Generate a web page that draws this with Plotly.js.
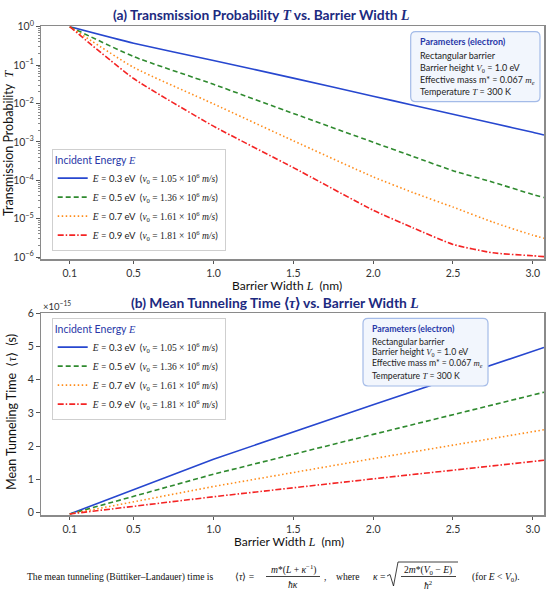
<!DOCTYPE html>
<html>
<head>
<meta charset="utf-8">
<script src="https://cdn.plot.ly/plotly-3.0.1.min.js"></script>
<style>html,body{margin:0;padding:0;background:#fff;}#chart{width:550px;height:593px;}</style>
</head>
<body>
<div id="chart"></div>
<script>
// ---------- data ----------
const energies = [0.3, 0.5, 0.7, 0.9];              // eV
const v0 = ['1.05', '1.36', '1.61', '1.81'];        // ×10^6 m/s
const colors = ['#2747cf', '#2f8a2f', '#ff8c1a', '#f42424'];
const dashes = ['solid', '5px,3px', '1.5px,2.5px', '6px,2px,1.5px,2px'];

// (a) transmission probability T vs L (nm)
const L_T = [0.1, 0.5, 1.0, 1.5, 2.0, 2.25, 2.5, 2.75, 3.0, 3.07];
const T_E03 = [1, 0.372, 0.132, 0.0457, 0.0155, 0.00902, 0.00525, 0.00305, 0.00178, 0.00151];
const T_E05 = [1, 0.166, 0.0316, 0.0055, 0.00098, 4.17e-4, 1.78e-4, 8.91e-5, 4.27e-5, 3.55e-5];
const T_E07 = [1, 0.0871, 0.00977, 0.00107, 1.23e-4, 4.79e-5, 2.0e-5, 8.13e-6, 3.72e-6, 3.09e-6];
const T_E09 = [1, 0.0447, 0.00257, 2.14e-4, 1.66e-5, 5.75e-6, 2.14e-6, 1.29e-6, 1.08e-6, 1.03e-6];

// (b) mean tunneling time <tau> in units of 1e-15 s vs L (nm)
const L_tau = [0.1, 1.0, 2.0, 3.07];
const tau_E03 = [-0.05, 1.60, 3.24, 4.97];
const tau_E05 = [-0.05, 1.15, 2.35, 3.62];
const tau_E07 = [-0.05, 0.78, 1.62, 2.49];
const tau_E09 = [-0.05, 0.47, 1.01, 1.57];

const xTickVals = [0.1, 0.5, 1.0, 1.5, 2.0, 2.5, 3.0];
const xTickText = ['0.1', '0.5', '1.0', '1.5', '2.0', '2.5', '3.0'];
const yTickValsT = [1, 1e-1, 1e-2, 1e-3, 1e-4, 1e-5, 1e-6];
const yTickTextT = ['10<sup>0</sup>', '10<sup>−1</sup>', '10<sup>−2</sup>', '10<sup>−3</sup>', '10<sup>−4</sup>', '10<sup>−5</sup>', '10<sup>−6</sup>'];
const yTickValsTau = [0, 1, 2, 3, 4, 5, 6];

// ---------- helpers (layout only) ----------
const W = 550, H = 593;
const X = px => px / W;
const Y = py => 1 - py / H;
const M = s => '<span style="font-family:Liberation Serif,serif"><i>' + s + '</i></span>';
const SER = s => '<span style="font-family:Liberation Serif,serif">' + s + '</span>';

const Tsets = [T_E03, T_E05, T_E07, T_E09];
const tauSets = [tau_E03, tau_E05, tau_E07, tau_E09];
const names = energies.map((e, i) =>
  M('E') + ' = ' + e.toFixed(1) + ' eV&nbsp;&nbsp;(' + M('v') + SER('<sub>0</sub> = ' + v0[i] + ' × 10<sup>6</sup> ') + M('m/s') + ')');

const traces = [];
energies.forEach((e, i) => {
  traces.push({
    x: L_T, y: Tsets[i], type: 'scatter', mode: 'lines', name: names[i],
    xaxis: 'x', yaxis: 'y', legend: 'legend',
    line: {color: colors[i], width: 1.6, dash: dashes[i], shape: 'spline', smoothing: 0.5}
  });
});
energies.forEach((e, i) => {
  traces.push({
    x: L_tau, y: tauSets[i], type: 'scatter', mode: 'lines', name: names[i],
    xaxis: 'x2', yaxis: 'y2', legend: 'legend2',
    line: {color: colors[i], width: 1.6, dash: dashes[i]}
  });
});

const frame = {showline: true, mirror: true, linecolor: '#8a8a8a', linewidth: 1.5,
  ticks: 'outside', ticklen: 3.5, tickwidth: 1, tickcolor: '#555', showgrid: false, zeroline: false,
  tickfont: {size: 10.5, color: '#333'}};

const xCommon = Object.assign({}, frame, {
  range: [-0.08, 3.07], tickvals: xTickVals, ticktext: xTickText
});

const legendCommon = {
  xanchor: 'left', yanchor: 'top', bgcolor: 'rgba(255,255,255,0.95)', bordercolor: '#cfcfcf', borderwidth: 1,
  font: {size: 9.5, color: '#222'}, tracegroupgap: 0, itemwidth: 30,
  title: {text: 'Incident Energy ' + M('E'), font: {size: 10.5, color: '#2838a8'}}
};

function rr(x0, y0, x1, y1, r) {
  const p = (x, y) => X(x) + ',' + Y(y);
  return 'M' + p(x0 + r, y0) + ' L' + p(x1 - r, y0) + ' Q' + p(x1, y0) + ' ' + p(x1, y0 + r) +
    ' L' + p(x1, y1 - r) + ' Q' + p(x1, y1) + ' ' + p(x1 - r, y1) +
    ' L' + p(x0 + r, y1) + ' Q' + p(x0, y1) + ' ' + p(x0, y1 - r) +
    ' L' + p(x0, y0 + r) + ' Q' + p(x0, y0) + ' ' + p(x0 + r, y0) + ' Z';
}

const paramLines = [
  '<b>Parameters (electron)</b>',
  'Rectangular barrier',
  'Barrier height ' + M('V') + SER('<sub>0</sub>') + ' = 1.0 eV',
  'Effective mass m* = 0.067 ' + M('m') + SER('<sub><i>e</i></sub>'),
  'Temperature ' + M('T') + ' = 300 K'
];

const annotations = [];
const shapes = [];
function paramBox(x0, y0, x1, y1, tx, ys, fs) {
  shapes.push({type: 'path', xref: 'paper', yref: 'paper', path: rr(x0, y0, x1, y1, 5),
    fillcolor: '#f2f6fd', line: {color: '#a4bbe8', width: 1.2}, layer: 'above'});
  paramLines.forEach((t, i) => {
    annotations.push({xref: 'paper', yref: 'paper', x: X(tx), y: Y(ys[i]), xanchor: 'left', yanchor: 'middle',
      showarrow: false, text: t, font: {size: fs, color: i === 0 ? '#2838a8' : '#222'}});
  });
}
paramBox(410.7, 31.7, 540, 101.7, 418, [41.7, 55, 67.7, 80, 91.7], 9);
paramBox(363, 318.3, 488, 386, 370, [328.3, 341, 352.3, 363.3, 375], 8.7);

// panel titles
const titleFont = {size: 13.8, color: '#1c2a80', family: 'Lato, sans-serif'};
annotations.push({xref: 'paper', yref: 'paper', x: X(261), y: Y(14.7), xanchor: 'center', yanchor: 'middle', showarrow: false,
  text: '<b>(a) Transmission Probability ' + M('T') + ' vs. Barrier Width ' + M('L') + '</b>', font: titleFont});
annotations.push({xref: 'paper', yref: 'paper', x: X(275), y: Y(302.7), xanchor: 'center', yanchor: 'middle', showarrow: false,
  text: '<b>(b) Mean Tunneling Time ' + SER('⟨') + M('τ') + SER('⟩') + ' vs. Barrier Width ' + M('L') + '</b>', font: titleFont});
// axis titles
const axTitleFont = {size: 12, color: '#111'};
const xTitle = 'Barrier Width ' + M('L') + '&nbsp;&nbsp;(nm)';
annotations.push({xref: 'paper', yref: 'paper', x: X(287), y: Y(285), xanchor: 'center', yanchor: 'middle', showarrow: false,
  text: xTitle, font: axTitleFont});
annotations.push({xref: 'paper', yref: 'paper', x: X(289), y: Y(541), xanchor: 'center', yanchor: 'middle', showarrow: false,
  text: xTitle, font: axTitleFont});
annotations.push({xref: 'paper', yref: 'paper', x: X(8), y: Y(143), xanchor: 'center', yanchor: 'middle', showarrow: false,
  textangle: -90, text: 'Transmission Probability&nbsp;&nbsp;' + M('T'), font: {size: 12.5, color: '#111'}});
annotations.push({xref: 'paper', yref: 'paper', x: X(11.5), y: Y(412.5), xanchor: 'center', yanchor: 'middle', showarrow: false,
  textangle: -90, text: 'Mean Tunneling Time&nbsp;&nbsp;' + SER('⟨') + M('τ') + SER('⟩') + '&nbsp;&nbsp;(s)', font: {size: 12.5, color: '#111'}});
// offset label of the lower y axis
annotations.push({xref: 'paper', yref: 'paper', x: X(41), y: Y(305), xanchor: 'left', yanchor: 'middle', showarrow: false,
  text: '×10<sup>−15</sup>', font: {size: 9.5, color: '#333'}});

// formula line
const fF = {size: 9.6, color: '#111', family: 'Liberation Serif, serif'};
function ftext(t, px, py, anchor) {
  annotations.push({xref: 'paper', yref: 'paper', x: X(px), y: Y(py), xanchor: anchor || 'left', yanchor: 'middle',
    showarrow: false, text: t, font: fF});
}
ftext('The mean tunneling (Büttiker–Landauer) time is', 24.6, 576.6);
ftext('⟨<i>τ</i>⟩ =', 233, 576.6);
ftext('<i>m</i>*(<i>L</i> + <i>κ</i><sup>−1</sup>)', 293, 569.5, 'center');
ftext('<i>ħκ</i>', 293, 584, 'center');
ftext(',&nbsp;&nbsp;&nbsp;&nbsp;where', 322, 576.6);
ftext('<i>κ</i> =', 371, 576.6);
ftext('2<i>m</i>*(<i>V</i><sub>0</sub> − <i>E</i>)', 428, 569.5, 'center');
ftext('<i>ħ</i><sup>2</sup>', 428, 584.5, 'center');
ftext('(for <i>E</i> &lt; <i>V</i><sub>0</sub>).', 470, 576.6);
shapes.push({type: 'line', xref: 'paper', yref: 'paper', x0: X(266), x1: X(320), y0: Y(576.5), y1: Y(576.5),
  line: {color: '#111', width: 0.8}});
shapes.push({type: 'path', xref: 'paper', yref: 'paper',
  path: 'M' + X(387) + ',' + Y(576) + ' L' + X(390) + ',' + Y(574.5) + ' L' + X(393.5) + ',' + Y(586) +
        ' L' + X(398) + ',' + Y(562) + ' L' + X(458) + ',' + Y(562),
  line: {color: '#111', width: 0.8}});
shapes.push({type: 'line', xref: 'paper', yref: 'paper', x0: X(401), x1: X(456), y0: Y(576.5), y1: Y(576.5),
  line: {color: '#111', width: 0.8}});

const layout = {
  width: W, height: H, margin: {l: 0, r: 0, t: 0, b: 0},
  paper_bgcolor: '#fff', plot_bgcolor: '#fff',
  font: {family: 'Lato, sans-serif', size: 11, color: '#222'},
  showlegend: true,
  xaxis: Object.assign({}, xCommon, {domain: [X(41), X(544)], anchor: 'y'}),
  yaxis: Object.assign({}, frame, {
    domain: [Y(259), Y(26.3)], anchor: 'x', type: 'log', range: [-6.05, 0.01],
    tickvals: yTickValsT, ticktext: yTickTextT,
    minor: {ticks: 'outside', ticklen: 2, tickcolor: '#888', dtick: 'D1'}
  }),
  xaxis2: Object.assign({}, xCommon, {domain: [X(41), X(544)], anchor: 'y2'}),
  yaxis2: Object.assign({}, frame, {
    domain: [Y(515), Y(313.3)], anchor: 'x2', range: [-0.08, 6],
    tickvals: yTickValsTau, ticktext: yTickValsTau.map(String)
  }),
  legend: Object.assign({}, legendCommon, {x: X(51.7), y: Y(149)}),
  legend2: Object.assign({}, legendCommon, {x: X(51.7), y: Y(318)}),
  shapes: shapes,
  annotations: annotations
};

Plotly.newPlot('chart', traces, layout, {displayModeBar: false, staticPlot: true});
</script>
</body>
</html>
